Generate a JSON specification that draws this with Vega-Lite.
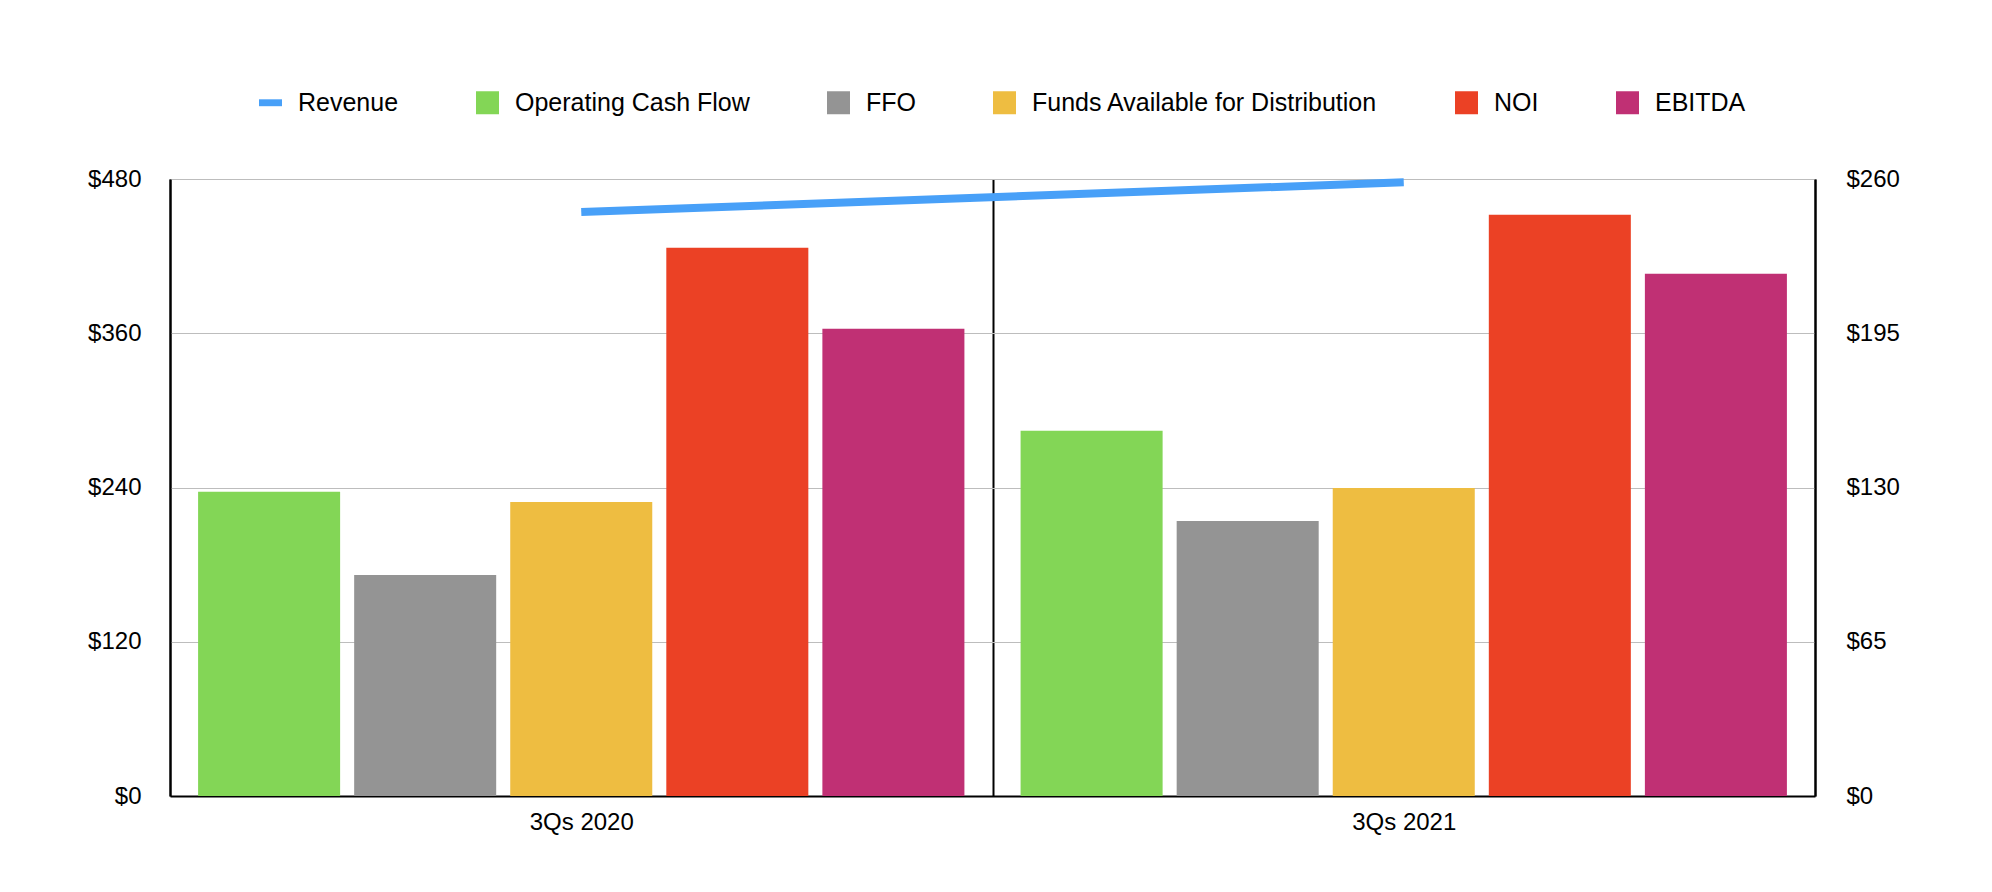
{
  "$schema": "https://vega.github.io/schema/vega-lite/v6.json",
  "width": 1645,
  "height": 617,
  "autosize": "none",
  "padding": {"left": 170, "top": 179, "right": 177, "bottom": 96},
  "background": "white",
  "config": {"view": {"stroke": null}, "font": "Liberation Sans"},
  "data": {"values": [
    {"period": "3Qs 2020", "metric": "Operating Cash Flow", "value": 236.6},
    {"period": "3Qs 2020", "metric": "FFO", "value": 172.0},
    {"period": "3Qs 2020", "metric": "Funds Available for Distribution", "value": 228.8},
    {"period": "3Qs 2020", "metric": "NOI", "value": 426.5},
    {"period": "3Qs 2020", "metric": "EBITDA", "value": 363.5},
    {"period": "3Qs 2020", "metric": "Revenue", "value": 246.1},
    {"period": "3Qs 2021", "metric": "Operating Cash Flow", "value": 284.1},
    {"period": "3Qs 2021", "metric": "FFO", "value": 214.0},
    {"period": "3Qs 2021", "metric": "Funds Available for Distribution", "value": 239.7},
    {"period": "3Qs 2021", "metric": "NOI", "value": 452.2},
    {"period": "3Qs 2021", "metric": "EBITDA", "value": 406.3},
    {"period": "3Qs 2021", "metric": "Revenue", "value": 258.6}
  ]},
  "encoding": {
    "x": {
      "field": "period", "type": "nominal",
      "scale": {"paddingInner": 0, "paddingOuter": 0},
      "axis": {
        "title": null, "labelAngle": 0, "tickBand": "extent",
        "grid": true, "gridColor": "black", "gridWidth": 2,
        "ticks": false, "domainColor": "black", "domainWidth": 2,
        "labelFontSize": 24, "labelPadding": 14, "labelColor": "black"
      }
    }
  },
  "layer": [
    {
      "transform": [{"filter": "datum.metric !== 'Revenue'"}],
      "mark": {"type": "bar"},
      "encoding": {
        "xOffset": {
          "field": "metric", "type": "nominal",
          "sort": ["Operating Cash Flow", "FFO", "Funds Available for Distribution", "NOI", "EBITDA"],
          "scale": {"domain": ["Operating Cash Flow", "FFO", "Funds Available for Distribution", "NOI", "EBITDA"], "paddingInner": 0.09, "paddingOuter": 0.18}
        },
        "y": {
          "field": "value", "type": "quantitative",
          "scale": {"domain": [0, 480]},
          "axis": {
            "orient": "left", "values": [0, 120, 240, 360, 480], "format": "$d", "title": null,
            "grid": true, "gridColor": "#bdbdbd", "gridWidth": 1,
            "domainColor": "black", "domainWidth": 2, "ticks": false,
            "labelPadding": 29, "labelFontSize": 24, "labelColor": "black"
          }
        },
        "color": {
          "field": "metric", "type": "nominal",
          "scale": {
            "domain": ["Revenue", "Operating Cash Flow", "FFO", "Funds Available for Distribution", "NOI", "EBITDA"],
            "range": ["#48A0F8", "#83D656", "#949494", "#EEBD41", "#EB4125", "#C03074"]
          },
          "legend": {
            "orient": "none", "legendX": 88, "legendY": -89, "direction": "horizontal",
            "title": null, "symbolSize": 529, "symbolStrokeWidth": 0,
            "labelFontSize": 25, "labelColor": "black", "labelOffset": 15, "labelLimit": 600, "columnPadding": 76,
            "encode": {"symbols": {"update": {"shape": {"signal": "datum.value === 'Revenue' ? 'M-1,-0.3H1V0.3H-1Z' : 'square'"}}}}
          }
        }
      }
    },
    {
      "transform": [{"filter": "datum.metric === 'Revenue'"}],
      "mark": {"type": "line", "strokeWidth": 8, "color": "#48A0F8", "strokeCap": "butt"},
      "encoding": {
        "y": {
          "field": "value", "type": "quantitative",
          "scale": {"domain": [0, 260]},
          "axis": {
            "orient": "right", "values": [0, 65, 130, 195, 260], "format": "$d", "title": null,
            "grid": false, "domainColor": "black", "domainWidth": 2, "ticks": false,
            "labelPadding": 31, "labelFontSize": 24, "labelColor": "black"
          }
        }
      }
    }
  ],
  "resolve": {"scale": {"y": "independent"}}
}
